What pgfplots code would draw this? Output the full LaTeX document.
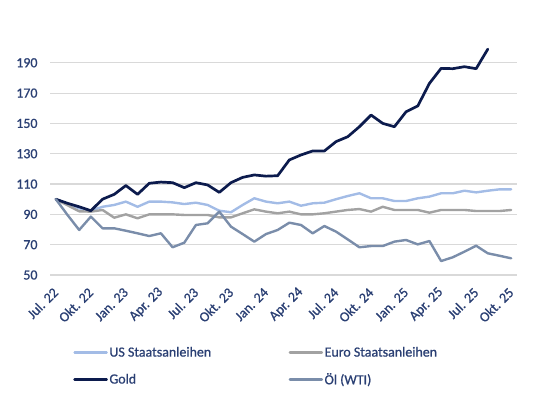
\documentclass[border=0pt]{standalone}
\usepackage{pgfplots}
\pgfplotsset{compat=1.18}
\usepackage{pgfplotstable}
\usepackage{fontspec}
\setmainfont{Carlito}[BoldFont=Carlito, BoldFeatures={FakeBold=0.9}]
\definecolor{navy}{HTML}{0C1B4D}
\definecolor{usblue}{HTML}{A3BCE6}
\definecolor{eurogray}{HTML}{A2A2A2}
\definecolor{oilblue}{HTML}{7A8DAA}
\definecolor{lbl}{HTML}{2A3F73}
\definecolor{gridc}{HTML}{D9D9D9}
\pgfplotstableread{
i us euro oil
0 100 100 100
1 97 96 89.6
2 94 92 79.7
3 92.5 91.8 88.5
4 95 92.9 80.8
5 96.2 87.8 80.8
6 98.4 90 79.2
7 95 87.4 77.5
8 98.4 90 75.7
9 98.4 90 77.5
10 97.9 90 68.3
11 96.8 89.6 71.3
12 97.7 89.6 83
13 96.2 89.6 84.1
14 92.4 88 91.8
15 91.4 88 81.9
16 96.2 90.7 77
17 100.6 93.3 72
18 98.4 91.8 77
19 97.3 90.7 79.7
20 98.4 91.8 84.5
21 95.7 90 83
22 97.3 90 77.5
23 97.7 90.7 82.3
24 100 91.8 78.6
25 102.1 92.9 73.5
26 103.9 93.5 68.3
27 100.6 91.8 69.1
28 100.6 95 69.1
29 98.8 92.9 72
30 98.8 92.9 73.1
31 100.6 92.9 70.2
32 101.7 91.1 72.4
33 103.9 92.9 59.2
34 103.9 92.9 61.7
35 105.6 92.9 65.4
36 104.5 92.2 69.3
37 105.6 92.2 64.3
38 106.5 92.2 62.7
39 106.5 92.9 61
}\others
\pgfplotstableread{
i gold
0 100
1 97.3
2 95
3 92.4
4 100
5 103.2
6 109
7 103.2
8 110.5
9 111.3
10 110.9
11 107.6
12 110.9
13 109.4
14 104.5
15 110.9
16 114.4
17 116
18 115.2
19 115.5
20 125.9
21 129.2
22 131.8
23 131.8
24 138
25 141.2
26 147.8
27 155.5
28 150
29 147.8
30 157.7
31 161.5
32 176.4
33 186.3
34 186.1
35 187.4
36 186.1
37 199
}\gold
\begin{document}
\begin{tikzpicture}
\useasboundingbox (-50bp,-129bp) rectangle (486bp,275bp);
\begin{axis}[
  scale only axis,
  width=467bp, height=227.4bp,
  at={(0,0)}, anchor=south west,
  xmin=-0.5, xmax=39.5,
  ymin=50, ymax=200,
  ytick={50,70,90,110,130,150,170,190},
  xtick={0,3,...,39},
  xticklabels={Jul. 22,Okt. 22,Jan. 23,Apr. 23,Jul. 23,Okt. 23,Jan. 24,Apr. 24,Jul. 24,Okt. 24,Jan. 25,Apr. 25,Jul. 25,Okt. 25},
  axis line style={draw=none},
  major tick length=0pt,
  ymajorgrids,
  grid style={gridc, line width=1.1bp},
  /pgf/number format/assume math mode=true,
  ticklabel style={font=\fontsize{14}{16}\selectfont\bfseries, text=lbl},
  yticklabel style={anchor=east, xshift=-9bp},
  xticklabel style={rotate=45, anchor=east, inner sep=0pt},
  xticklabel shift=15bp,
  legend columns=2,
  legend cell align=left,
  legend style={draw=none, fill=none, at={(0.043,-0.30)}, anchor=north west,
    font=\fontsize{14}{16}\selectfont\bfseries, text=lbl,
    nodes={inner sep=1.5bp},
    row sep=12bp,
    /tikz/every even column/.append style={column sep=76bp}},
  legend image code/.code={\draw[#1] (0bp,0bp) -- (32bp,0bp);},
  every axis plot/.append style={line join=round, line cap=round},
]
\addplot[usblue, line width=2.4bp] table[x=i, y=us] {\others};
\addlegendentry{US Staatsanleihen}
\addplot[eurogray, line width=2.4bp] table[x=i, y=euro] {\others};
\addlegendentry{Euro Staatsanleihen}
\addplot[navy, line width=2.7bp] table[x=i, y=gold] {\gold};
\addlegendentry{Gold}
\addplot[oilblue, line width=2.4bp] table[x=i, y=oil] {\others};
\addlegendentry{Öl (WTI)}
\end{axis}
\end{tikzpicture}
\end{document}
